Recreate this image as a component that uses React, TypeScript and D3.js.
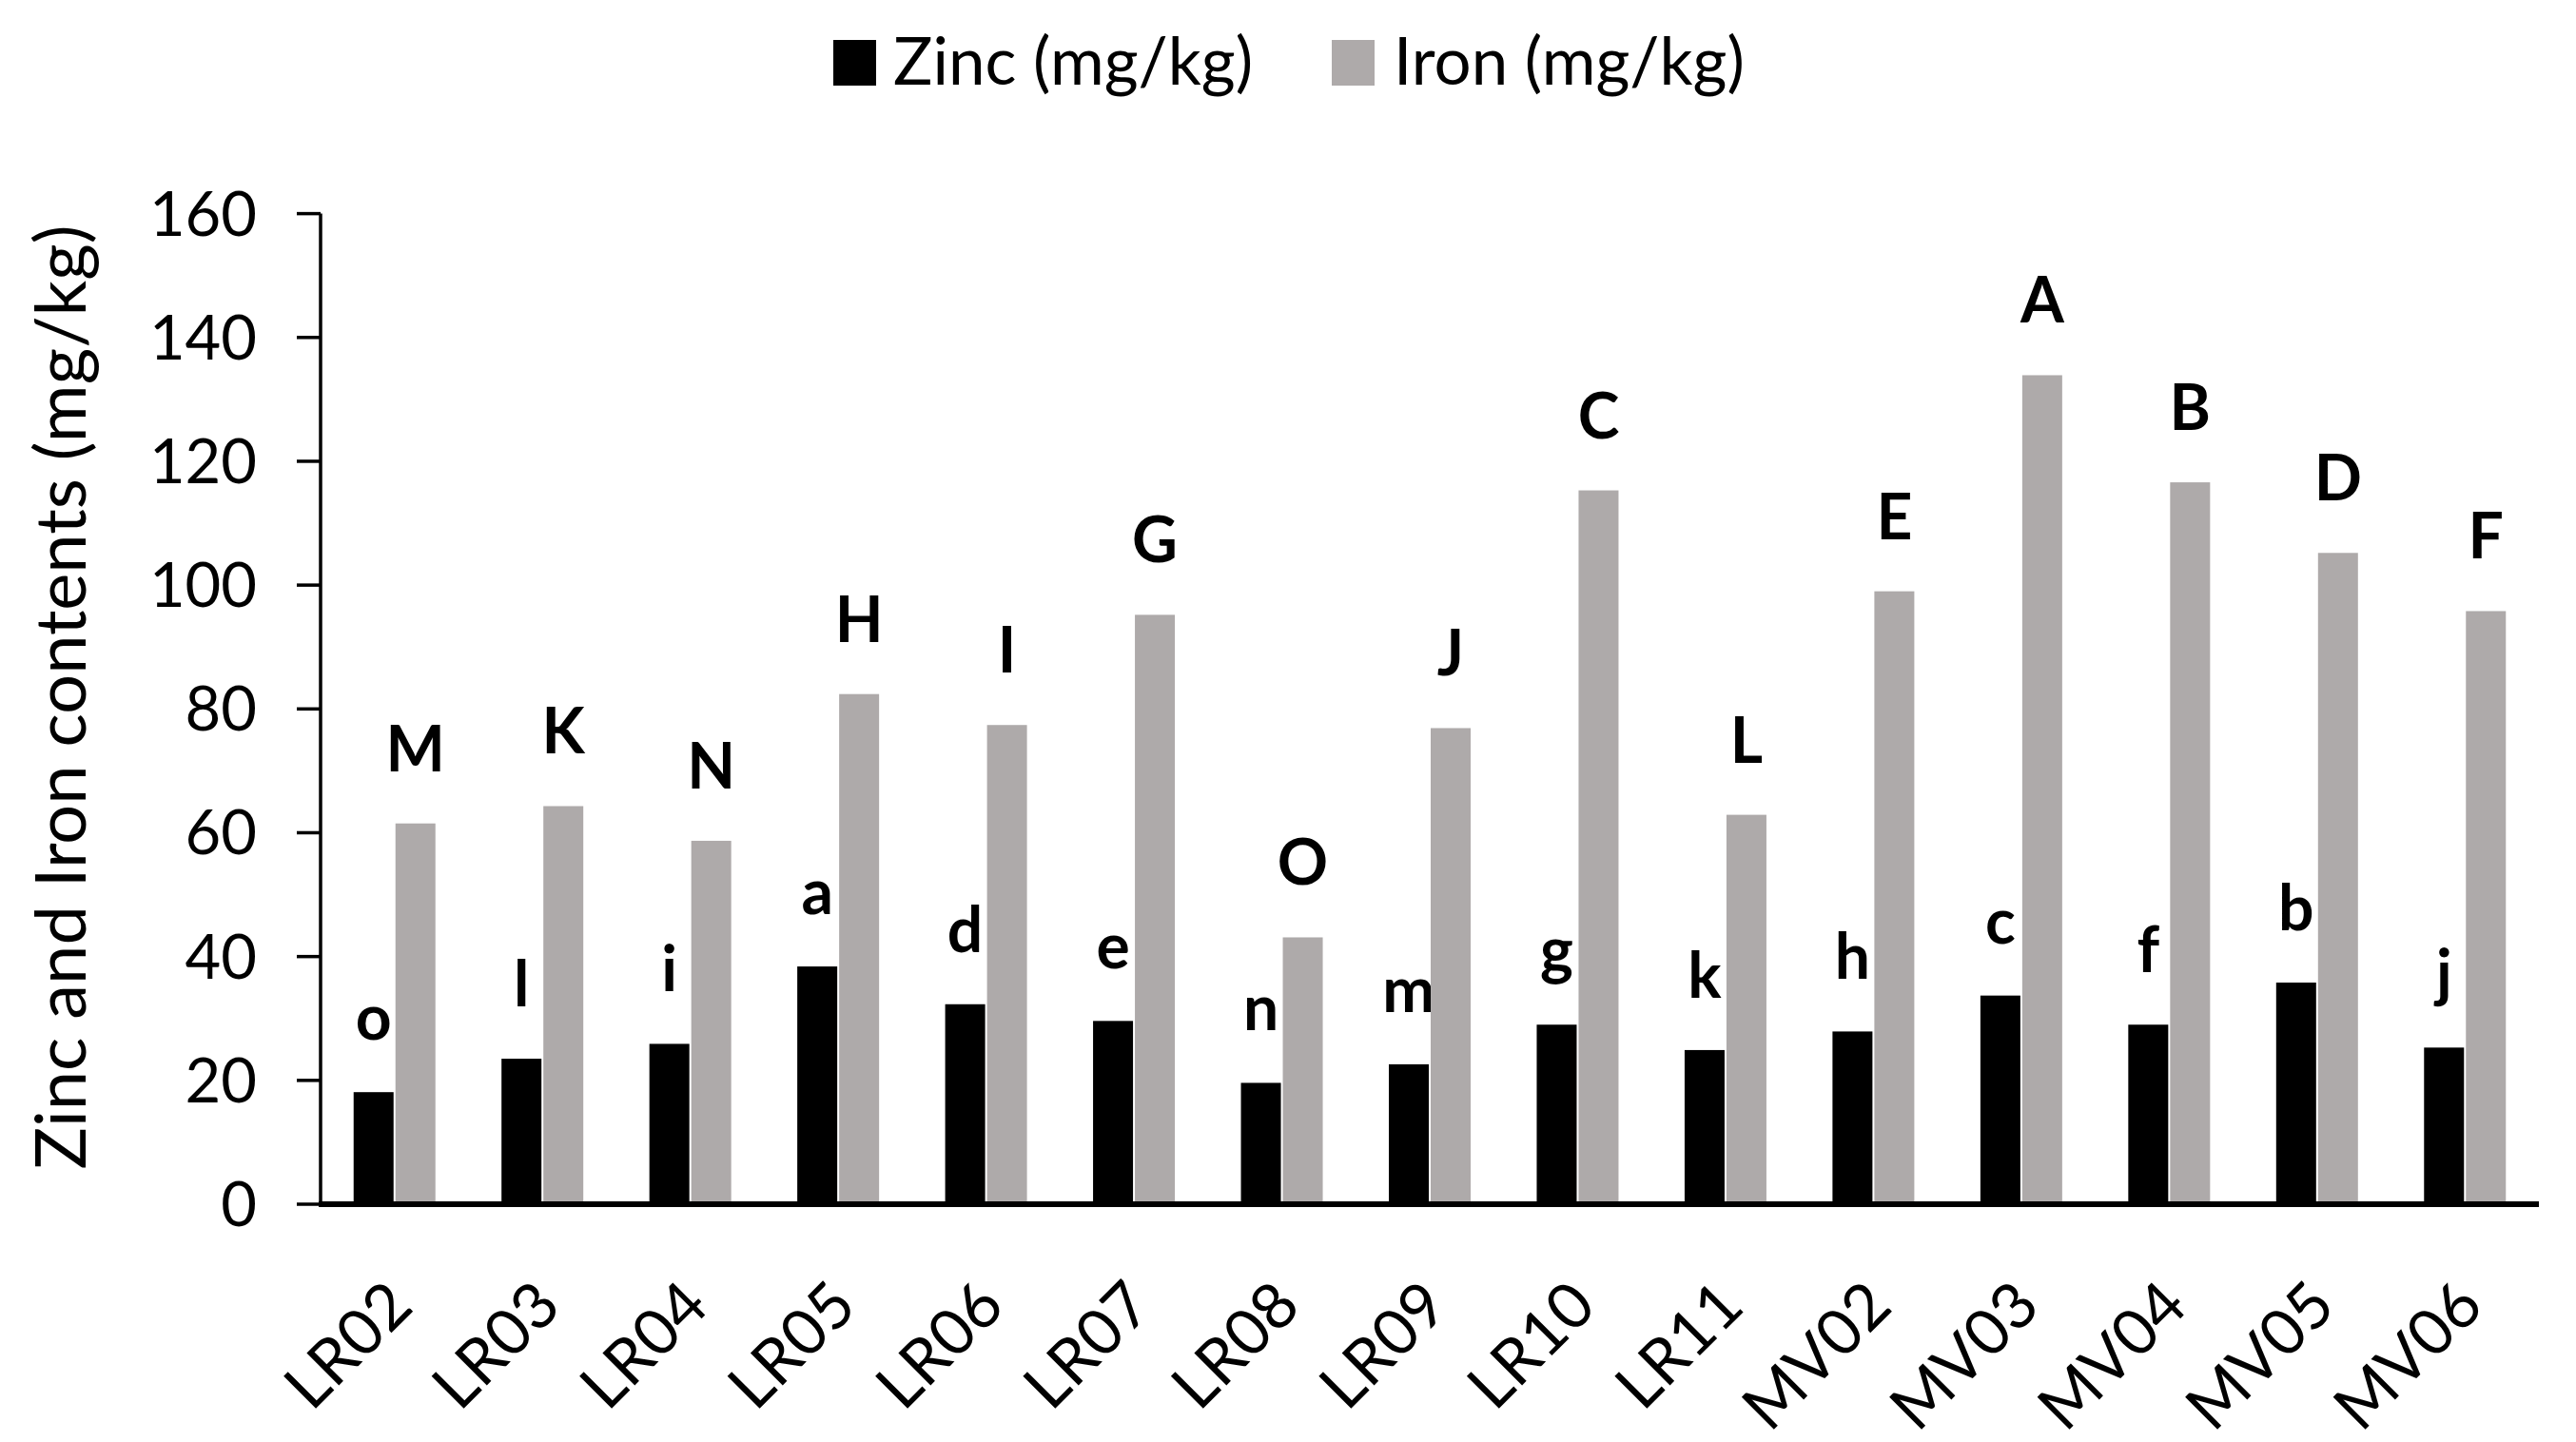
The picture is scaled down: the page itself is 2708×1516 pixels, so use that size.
import React from "react";
import * as d3 from "d3";

const categories = ["LR02", "LR03", "LR04", "LR05", "LR06", "LR07", "LR08", "LR09", "LR10", "LR11", "MV02", "MV03", "MV04", "MV05", "MV06"];
const zincValues = [18.1, 23.5, 25.9, 38.4, 32.3, 29.6, 19.6, 22.6, 29.0, 24.9, 27.9, 33.7, 29.0, 35.8, 25.3];
const ironValues = [61.5, 64.3, 58.7, 82.4, 77.4, 95.2, 43.1, 76.9, 115.3, 62.9, 99.0, 133.9, 116.6, 105.2, 95.8];
const zincLetters = ["o", "l", "i", "a", "d", "e", "n", "m", "g", "k", "h", "c", "f", "b", "j"];
const ironLetters = ["M", "K", "N", "H", "I", "G", "O", "J", "C", "L", "E", "A", "B", "D", "F"];
const yTicks = [0, 20, 40, 60, 80, 100, 120, 140, 160];
const seriesNames = ["Zinc (mg/kg)", "Iron (mg/kg)"];
const seriesColors = ["#000000", "#aeaaaa"];
const yTitle = "Zinc and Iron contents (mg/kg)";

const W = 2708;
const H = 1516;
const FONT = "Lato, 'Open Sans', sans-serif";

export default function App() {
  const x = d3.scaleBand<string>().domain(categories).range([337, 2669]).padding(0);
  const y = d3.scaleLinear().domain([0, 160]).range([1266, 224.6]);
  const barW = 42;
  const gap = 2;
  const series = [zincValues, ironValues];
  const letters = [zincLetters, ironLetters];

  return (
    <svg width={W} height={H} style={{ position: "absolute", left: 0, top: 0, background: "#fff" }} fontFamily={FONT}>
      <rect x={0} y={0} width={W} height={H} fill="#fff" />
      {/* legend */}
      <g>
        <rect x={876} y={42} width={45} height={48} fill={seriesColors[0]} />
        <text x={939} y={89} fontSize={69} fill="#000">{seriesNames[0]}</text>
        <rect x={1400} y={42} width={45} height={48} fill={seriesColors[1]} />
        <text x={1465} y={89} fontSize={69} fill="#000">{seriesNames[1]}</text>
      </g>
      {/* y title */}
      <text transform={`translate(61,733) rotate(-90)`} textAnchor="middle" dominantBaseline="central" fontSize={74} fill="#000">
        {yTitle}
      </text>
      {/* bars */}
      {categories.map((c, i) => {
        const cx = (x(c) as number) + x.bandwidth() / 2;
        return (
          <g key={c}>
            {series.map((vals, s) => {
              const bx = s === 0 ? cx - gap / 2 - barW : cx + gap / 2;
              return (
                <g key={s}>
                  <rect x={bx} y={y(vals[i])} width={barW} height={y(0) - y(vals[i])} fill={seriesColors[s]} />
                  <text x={bx + barW / 2} y={y(vals[i]) - 55} textAnchor="middle" fontWeight="bold" fontSize={66} fill="#000">
                    {letters[s][i]}
                  </text>
                </g>
              );
            })}
          </g>
        );
      })}
      {/* y axis */}
      <line x1={337} x2={337} y1={y(160)} y2={y(0)} stroke="#000" strokeWidth={3.5} />
      {yTicks.map((t) => (
        <g key={t}>
          <line x1={312} x2={337} y1={y(t)} y2={y(t)} stroke="#000" strokeWidth={3.5} />
          <text x={270} y={y(t) + 23} textAnchor="end" fontSize={65} fill="#000">{t}</text>
        </g>
      ))}
      {/* x axis */}
      <line x1={335} x2={2669} y1={y(0)} y2={y(0)} stroke="#000" strokeWidth={6} />
      {categories.map((c) => {
        const cx = (x(c) as number) + x.bandwidth() / 2;
        return (
          <text key={c} transform={`translate(${cx + 22},1376) rotate(-45)`} textAnchor="end" fontSize={67} fill="#000">
            {c}
          </text>
        );
      })}
    </svg>
  );
}
